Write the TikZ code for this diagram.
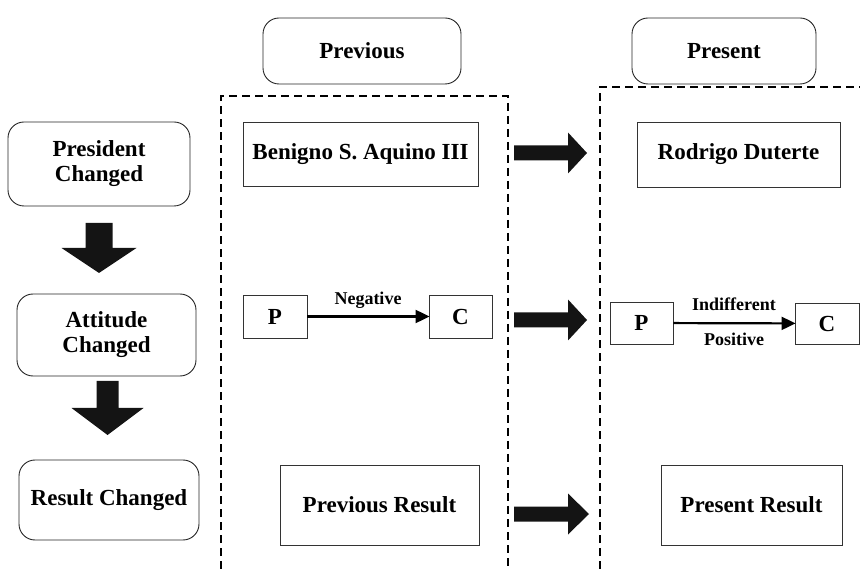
\documentclass[tikz,border=0pt]{standalone}
\usepackage{fontspec}
\setmainfont{Liberation Serif}
\usetikzlibrary{arrows.meta}
\begin{document}
\begin{tikzpicture}[x=1pt,y=-1pt,
  big/.style={font=\bfseries\fontsize{23}{25}\selectfont},
  small/.style={font=\bfseries\fontsize{18}{20}\selectfont},
  roundbox/.style={draw=black!85,line width=0.9pt,rounded corners=16pt,align=center,big,inner sep=0pt},
  plainbox/.style={draw=black!80,line width=0.9pt,align=center,big,inner sep=0pt},
  frame/.style={draw=black,line width=1.1pt,dash pattern=on 8pt off 5pt},
  relation/.style={draw=black,line width=2.2pt,-{Triangle[length=14pt,width=13pt]},shorten >=-1pt},
  blockarrow/.style={fill=black!92,draw=none}
]
\useasboundingbox (0,0) rectangle (860,569);

% column frames
\draw[frame] (221,569) -- (221,96) -- (508,96) -- (508,569);
\draw[frame] (600,569) -- (600,87) -- (860,87);

% column headers
\node[roundbox,minimum width=198pt,minimum height=66pt] (prevhdr) at (362,51) {Previous};
\node[roundbox,minimum width=184pt,minimum height=66pt] (preshdr) at (724,51) {Present};

% left-hand chain
\node[roundbox,minimum width=182pt,minimum height=84pt] (pres) at (99,164) {President\\Changed};
\node[roundbox,minimum width=179pt,minimum height=82pt] (att) at (106.5,335) {Attitude\\Changed};
\node[roundbox,minimum width=180pt,minimum height=80pt] (res) at (109,500) {Result Changed};

% down block arrows between the stages
\fill[blockarrow] (85.5,223) -- (112.5,223) -- (112.5,248) -- (136.5,248) -- (99,273)
  -- (61.5,248) -- (85.5,248) -- cycle;
\fill[blockarrow] (96.5,381) -- (118.5,381) -- (118.5,408) -- (143.5,408) -- (107.5,435)
  -- (71.5,408) -- (96.5,408) -- cycle;

% previous column
\node[plainbox,minimum width=235pt,minimum height=64pt] (benigno) at (360.5,154) {Benigno S. Aquino III};
\node[plainbox,minimum width=64pt,minimum height=43pt] (p1) at (275,316.5) {P};
\node[plainbox,minimum width=63pt,minimum height=43pt] (c1) at (460.5,316.5) {C};
\draw[relation] (p1) -- node[small,above=4pt] {Negative} (c1);
\node[plainbox,minimum width=199pt,minimum height=80pt] (prevres) at (379.5,505) {Previous Result};

% present column
\node[plainbox,minimum width=203pt,minimum height=65pt] (rodrigo) at (738.5,154.5) {Rodrigo Duterte};
\node[plainbox,minimum width=63pt,minimum height=42pt] (p2) at (641.5,323) {P};
\node[plainbox,minimum width=64pt,minimum height=41pt] (c2) at (827,323.5) {C};
\draw[relation] (p2) -- node[small,above=8pt] {Indifferent} node[small,below=5pt] {Positive} (c2);
\node[plainbox,minimum width=181pt,minimum height=80pt] (presres) at (751.5,505) {Present Result};

% right block arrows from previous to present
\foreach \yy/\tip in {153/587, 320/587, 514/589} {
  \fill[blockarrow] (514,\yy-7.5) -- (568,\yy-7.5) -- (568,\yy-20.5) -- (\tip,\yy)
    -- (568,\yy+20.5) -- (568,\yy+7.5) -- (514,\yy+7.5) -- cycle;
}
\end{tikzpicture}
\end{document}
